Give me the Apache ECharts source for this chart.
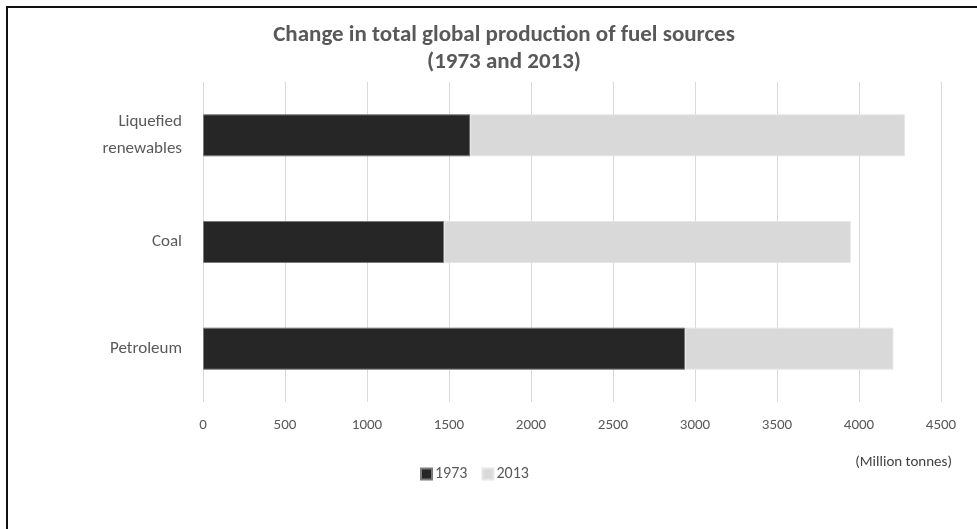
<!DOCTYPE html>
<html>
<head>
<meta charset="utf-8">
<script src="https://cdn.jsdelivr.net/npm/echarts@6/dist/echarts.min.js"></script>
<style>
  html, body { margin: 0; padding: 0; background: #fff; }
  #chart { width: 977px; height: 529px; }
</style>
</head>
<body>
<div id="chart"></div>
<script>
// Fuel sources (bottom to top on the category axis)
const categories = ['Petroleum', 'Coal', 'Liquefied\nrenewables'];
// Production in 1973 (million tonnes)
const production1973 = [2940, 1470, 1630];
// Additional production reached by 2013, stacked after 1973
const production2013 = [1270, 2480, 2650];
// Value axis ticks
const axisMin = 0, axisMax = 4500, axisStep = 500;

const font = 'Carlito, Lato, "Open Sans", sans-serif';
const textGray = '#595959';

const chart = echarts.init(document.getElementById('chart'), null, { renderer: 'canvas' });

chart.setOption({
  animation: false,
  backgroundColor: '#fff',
  title: {
    text: 'Change in total global production of fuel sources\n(1973 and 2013)',
    left: 499,
    top: 17,
    textAlign: 'center',
    textStyle: {
      fontFamily: font,
      fontSize: 23,
      fontWeight: 'bold',
      color: textGray,
      lineHeight: 27
    }
  },
  legend: {
    left: 415,
    top: 461,
    itemWidth: 11,
    itemHeight: 11,
    itemGap: 14,
    icon: 'rect',
    textStyle: { fontFamily: font, fontSize: 16, color: textGray, padding: [0, 0, 0, -2] },
    data: ['1973', '2013']
  },
  grid: { left: 203, right: 36, top: 82, bottom: 127, containLabel: false },
  xAxis: {
    type: 'value',
    min: axisMin,
    max: axisMax,
    interval: axisStep,
    axisLine: { show: false },
    axisTick: { show: false },
    splitLine: { show: true, lineStyle: { color: '#d9d9d9', width: 1 } },
    axisLabel: {
      fontFamily: font,
      fontSize: 15,
      color: textGray,
      margin: 16,
      formatter: (v) => String(v)
    }
  },
  yAxis: {
    type: 'category',
    data: categories,
    axisLine: { show: false },
    axisTick: { show: false },
    axisLabel: {
      fontFamily: font,
      fontSize: 17,
      color: textGray,
      margin: 21,
      lineHeight: 27,
      align: 'right'
    }
  },
  series: [
    {
      name: '1973',
      type: 'bar',
      stack: 'total',
      barWidth: 42,
      itemStyle: { color: '#262626', borderColor: '#7a7a7a', borderWidth: 1 },
      data: production1973
    },
    {
      name: '2013',
      type: 'bar',
      stack: 'total',
      barWidth: 42,
      itemStyle: { color: '#d9d9d9', borderColor: '#e6e6e6', borderWidth: 1 },
      data: production2013
    }
  ],
  graphic: [
    {
      type: 'polyline',
      shape: { points: [[7, 529], [7, 7], [977, 7]] },
      style: { stroke: '#111', lineWidth: 2, fill: null }
    },
    {
      type: 'text',
      right: 25,
      top: 455,
      style: {
        text: '(Million tonnes)',
        font: '15px ' + font,
        fill: '#404040'
      }
    }
  ]
});
</script>
</body>
</html>
